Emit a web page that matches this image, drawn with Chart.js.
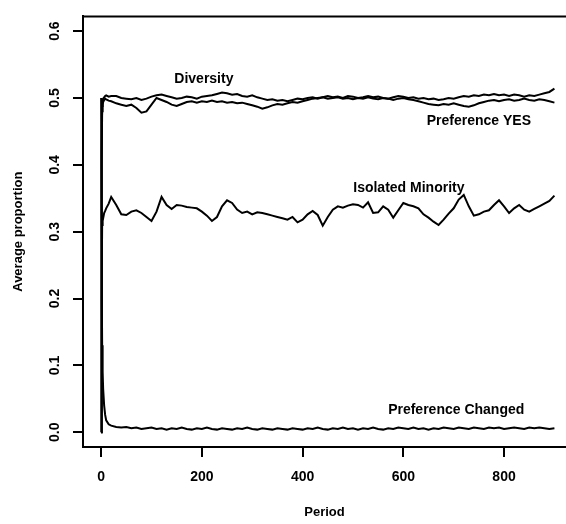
<!DOCTYPE html>
<html>
<head>
<meta charset="utf-8">
<script src="https://cdn.jsdelivr.net/npm/chart.js@4"></script>
<style>
  body { margin: 0; background: #fff; }
  #wrap { width: 566px; height: 524px; position: relative; }
</style>
</head>
<body>
<div id="wrap"><canvas id="chart"></canvas></div>
<script>
const periods = [0, 1, 2, 3, 4, 6, 8, 10, 15, 20,
  30, 40, 50, 60, 70, 80, 90, 100, 110, 120,
  130, 140, 150, 160, 170, 180, 190, 200, 210, 220,
  230, 240, 250, 260, 270, 280, 290, 300, 310, 320,
  330, 340, 350, 360, 370, 380, 390, 400, 410, 420,
  430, 440, 450, 460, 470, 480, 490, 500, 510, 520,
  530, 540, 550, 560, 570, 580, 590, 600, 610, 620,
  630, 640, 650, 660, 670, 680, 690, 700, 710, 720,
  730, 740, 750, 760, 770, 780, 790, 800, 810, 820,
  830, 840, 850, 860, 870, 880, 890, 900];

const diversity = [0.000, 0.420, 0.488, 0.496, 0.499, 0.501, 0.503, 0.504, 0.502, 0.503,
  0.503, 0.500, 0.499, 0.498, 0.500, 0.497, 0.499, 0.502, 0.504, 0.505,
  0.503, 0.501, 0.499, 0.500, 0.502, 0.501, 0.499, 0.502, 0.503, 0.504,
  0.506, 0.508, 0.507, 0.505, 0.506, 0.503, 0.502, 0.504, 0.501, 0.499,
  0.497, 0.498, 0.496, 0.497, 0.495, 0.497, 0.499, 0.498, 0.500, 0.501,
  0.499, 0.501, 0.503, 0.501, 0.502, 0.500, 0.503, 0.502, 0.500, 0.501,
  0.503, 0.501, 0.502, 0.500, 0.499, 0.501, 0.503, 0.502, 0.500, 0.501,
  0.499, 0.500, 0.498, 0.499, 0.497, 0.498, 0.500, 0.499, 0.501, 0.503,
  0.502, 0.504, 0.503, 0.505, 0.504, 0.506, 0.504, 0.505, 0.503, 0.505,
  0.504, 0.502, 0.504, 0.503, 0.505, 0.507, 0.509, 0.514];

const preferenceYes = [0.000, 0.400, 0.480, 0.490, 0.494, 0.497, 0.499, 0.498, 0.496, 0.495,
  0.492, 0.490, 0.488, 0.490, 0.485, 0.478, 0.480, 0.490, 0.500, 0.497,
  0.494, 0.490, 0.488, 0.491, 0.494, 0.495, 0.493, 0.495, 0.494, 0.496,
  0.494, 0.495, 0.493, 0.494, 0.492, 0.493, 0.491, 0.489, 0.487, 0.484,
  0.486, 0.489, 0.491, 0.490, 0.492, 0.494, 0.493, 0.495, 0.497, 0.499,
  0.500, 0.501, 0.499, 0.500, 0.501, 0.499, 0.500, 0.498, 0.500, 0.499,
  0.501, 0.499, 0.498, 0.500, 0.499, 0.497, 0.499, 0.500, 0.498, 0.497,
  0.495, 0.493, 0.491, 0.490, 0.489, 0.491, 0.490, 0.492, 0.490, 0.488,
  0.487, 0.489, 0.492, 0.494, 0.496, 0.497, 0.495, 0.497, 0.498, 0.496,
  0.497, 0.499, 0.497, 0.496, 0.498, 0.497, 0.495, 0.493];

const isolatedMinority = [0.000, 0.200, 0.310, 0.325, 0.320, 0.328, 0.331, 0.335, 0.342, 0.352,
  0.340, 0.326, 0.325, 0.330, 0.332, 0.328, 0.322, 0.316, 0.330, 0.352,
  0.340, 0.334, 0.340, 0.339, 0.337, 0.336, 0.335, 0.330, 0.324, 0.316,
  0.322, 0.338, 0.347, 0.343, 0.333, 0.328, 0.330, 0.326, 0.329, 0.328,
  0.326, 0.324, 0.322, 0.320, 0.318, 0.322, 0.314, 0.318, 0.326, 0.331,
  0.325, 0.309, 0.322, 0.333, 0.338, 0.336, 0.339, 0.341, 0.340, 0.336,
  0.344, 0.328, 0.329, 0.338, 0.333, 0.321, 0.332, 0.343, 0.340, 0.338,
  0.335, 0.326, 0.321, 0.315, 0.310, 0.318, 0.327, 0.335, 0.348, 0.355,
  0.338, 0.324, 0.326, 0.330, 0.332, 0.340, 0.347, 0.338, 0.328, 0.335,
  0.340, 0.333, 0.330, 0.334, 0.338, 0.342, 0.346, 0.354];

const preferenceChanged = [0.500, 0.260, 0.130, 0.090, 0.065, 0.040, 0.026, 0.018, 0.012, 0.010,
  0.008, 0.007, 0.008, 0.006, 0.007, 0.005, 0.006, 0.007, 0.005, 0.006,
  0.004, 0.006, 0.005, 0.007, 0.005, 0.004, 0.006, 0.005, 0.007, 0.005,
  0.004, 0.006, 0.005, 0.004, 0.006, 0.005, 0.007, 0.005, 0.004, 0.006,
  0.005, 0.004, 0.006, 0.005, 0.004, 0.006, 0.005, 0.004, 0.006, 0.005,
  0.007, 0.005, 0.004, 0.006, 0.005, 0.007, 0.005, 0.006, 0.004, 0.006,
  0.005, 0.007, 0.005, 0.004, 0.006, 0.005, 0.007, 0.006, 0.005, 0.007,
  0.005, 0.006, 0.004, 0.006, 0.005, 0.007, 0.006, 0.005, 0.007, 0.006,
  0.005, 0.007, 0.006, 0.005, 0.007, 0.006, 0.007, 0.005, 0.006, 0.007,
  0.006, 0.005, 0.007, 0.006, 0.007, 0.006, 0.005, 0.006];

const xTicks = [0, 200, 400, 600, 800];
const yTicks = [0, 0.1, 0.2, 0.3, 0.4, 0.5, 0.6];

const seriesNames = ['Diversity', 'Preference YES', 'Isolated Minority', 'Preference Changed'];
const seriesValues = [diversity, preferenceYes, isolatedMinority, preferenceChanged];

// label anchors in data units (period, proportion)
const seriesLabels = [
  { text: 'Diversity', x: 204, y: 0.528 },
  { text: 'Preference YES', x: 750, y: 0.466 },
  { text: 'Isolated Minority', x: 611, y: 0.365 },
  { text: 'Preference Changed', x: 705, y: 0.033 }
];

const FONT = "'Liberation Sans', Arial, sans-serif";

const frameAndLabels = {
    id: 'frameAndLabels',
    afterDraw(chart) {
        const { ctx, chartArea, scales } = chart;
        ctx.save();
        // top edge of the box
        ctx.strokeStyle = '#000';
        ctx.lineWidth = 2;
        ctx.beginPath();
        ctx.moveTo(chartArea.left - 1, chartArea.top);
        ctx.lineTo(chartArea.right, chartArea.top);
        ctx.stroke();
        // curve labels
        ctx.fillStyle = '#000';
        ctx.font = 'bold 14px ' + FONT;
        ctx.textAlign = 'center';
        ctx.textBaseline = 'middle';
        seriesLabels.forEach(l => {
            ctx.fillText(l.text, scales.x.getPixelForValue(l.x), scales.y.getPixelForValue(l.y));
        });
        ctx.restore();
    }
};

const ctx = document.getElementById('chart').getContext('2d');
new Chart(ctx, {
    type: 'line',
    data: {
        datasets: seriesNames.map((name, i) => ({
            label: name,
            data: periods.map((p, j) => ({ x: p, y: seriesValues[i][j] })),
            borderColor: '#000',
            borderWidth: 2,
            pointRadius: 0,
            tension: 0,
            fill: false
        }))
    },
    options: {
        responsive: true,
        maintainAspectRatio: false,
        animation: false,
        layout: { padding: { top: 11, right: 0, bottom: 0, left: 0 } },
        plugins: {
            legend: { display: false },
            tooltip: { enabled: false }
        },
        scales: {
            x: {
                type: 'linear',
                min: -36,
                max: 923,
                afterBuildTicks: axis => { axis.ticks = xTicks.map(v => ({ value: v })); },
                afterFit: axis => { axis.height = 77; },
                grid: { drawOnChartArea: false, drawTicks: true, tickLength: 10, color: '#000', lineWidth: 2 },
                border: { display: true, color: '#000', width: 2 },
                ticks: { color: '#000', padding: 12, maxRotation: 0, font: { family: FONT, size: 14, weight: 'bold' } },
                title: { display: true, text: 'Period', color: '#000', padding: { top: 0, bottom: 4 }, font: { family: FONT, size: 13, weight: 'bold' } }
            },
            y: {
                type: 'linear',
                min: -0.022,
                max: 0.622,
                afterBuildTicks: axis => { axis.ticks = yTicks.map(v => ({ value: v })); },
                afterFit: axis => { axis.width = 83; },
                grid: { drawOnChartArea: false, drawTicks: true, tickLength: 10, color: '#000', lineWidth: 2 },
                border: { display: true, color: '#000', width: 2 },
                ticks: {
                    color: '#000',
                    padding: 8,
                    minRotation: 90,
                    maxRotation: 90,
                    crossAlign: 'center',
                    font: { family: FONT, size: 14, weight: 'bold' },
                    callback: v => v.toFixed(1)
                },
                title: { display: true, text: 'Average proportion', color: '#000', padding: { top: 11, bottom: 0 }, font: { family: FONT, size: 13, weight: 'bold' } }
            }
        }
    },
    plugins: [frameAndLabels]
});
</script>
</body>
</html>
